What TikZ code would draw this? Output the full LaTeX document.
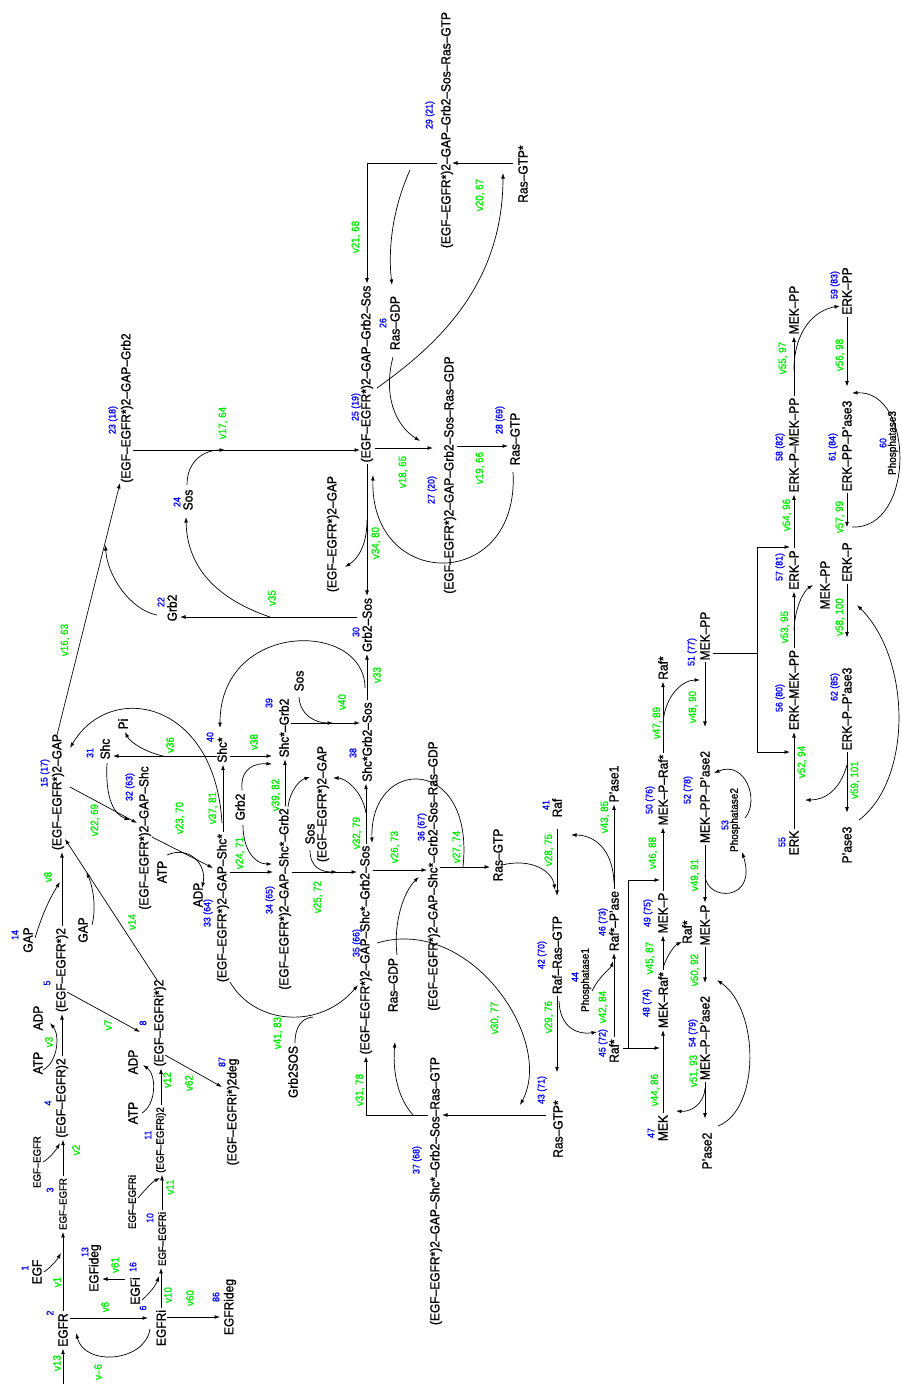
\documentclass[tikz,border=0pt]{standalone}
\usepackage{fontspec}
\setmainfont{Liberation Sans}[FakeBold=1.2]
\usetikzlibrary{arrows.meta}
\definecolor{idblue}{RGB}{0,0,255}
\definecolor{rategreen}{RGB}{0,235,0}
\tikzset{
  sp/.style={rotate=90, yscale=1.1, inner sep=0pt, outer sep=2pt, font=\fontsize{12}{14}\selectfont},
  sps/.style={sp, font=\fontsize{9.6}{11}\selectfont},
  enz/.style={sp, font=\fontsize{10}{12}\selectfont},
  num/.style={rotate=90, yscale=1.1, inner sep=0pt, text=idblue, font=\fontsize{8.8}{10}\selectfont},
  rate/.style={rotate=90, yscale=1.1, inner sep=0pt, text=rategreen, font=\fontsize{9.8}{11}\selectfont}
}
\begin{document}
\begin{tikzpicture}[x=1pt, y=-1pt, line width=0.7pt, >={Latex[length=5.5pt,width=3.8pt]}]
  \fill[white] (0,0) rectangle (902,1385);
  \useasboundingbox (0,0) rectangle (902,1385);
  % species
  \node[sp] (s1) at (37,1272) {EGF};
  \node[sp] (s2) at (63,1330) {EGFR};
  \node[sps] (s3) at (63,1204) {EGF--EGFR};
  \node[sps] (s3r) at (37,1162) {EGF--EGFR};
  \node[sp] (s4) at (62,1098) {(EGF--EGFR)2};
  \node[sp] (atp1) at (38,1063) {ATP};
  \node[sp] (adp1) at (38,1018) {ADP};
  \node[sp] (s5) at (62,970) {(EGF--EGFR*)2};
  \node[sp] (s6) at (161,1328) {EGFRi};
  \node[sp] (s16) at (135,1291) {EGFi};
  \node[sp] (s13) at (95,1268) {EGFideg};
  \node[sp] (s86) at (230,1307) {EGFRideg};
  \node[sps] (s10) at (162,1239) {EGF--EGFRi};
  \node[sps] (s10r) at (132,1202) {EGF--EGFRi};
  \node[sps] (s11) at (161,1140) {(EGF--EGFRi)2};
  \node[sp] (atp2) at (133,1113) {ATP};
  \node[sp] (adp2) at (133,1062) {ADP};
  \node[sp] (s8) at (160,1023) {(EGF--EGFRi*)2};
  \node[sp] (s87) at (233,1112) {(EGF--EGFRi*)2deg};
  \node[sp] (s14) at (28,940) {GAP};
  \node[sp] (gap2) at (83,930) {GAP};
  \node[sp] (s15) at (58,792) {(EGF--EGFR*)2--GAP};
  \node[sp] (s22) at (172,608) {Grb2};
  \node[sp] (s23) at (127,408) {(EGF--EGFR*)2--GAP--Grb2};
  \node[sp] (s24) at (188,500) {Sos};
  \node[sp] (s25) at (367,374) {(EGF--EGFR*)2--GAP--Grb2--Sos};
  \node[sp] (s26) at (395,323) {Ras--GDP};
  \node[sp] (s27) at (450,475) {(EGF--EGFR*)2--GAP--Grb2--Sos--Ras--GDP};
  \node[sp] (s28) at (515,439) {Ras--GTP};
  \node[sp] (s29) at (447,130) {(EGF--EGFR*)2--GAP--Grb2--Sos--Ras--GTP};
  \node[sp] (rgs1) at (523,174) {Ras--GTP*};
  \node[sp] (gap3) at (333,534) {(EGF--EGFR*)2--GAP};
  \node[sp] (s30) at (367,625) {Grb2--Sos};
  \node[sp] (s31) at (105,749) {Shc};
  \node[sp] (pi) at (123,724) {Pi};
  \node[sp] (s32) at (145,838) {(EGF--EGFR*)2--GAP--Shc};
  \node[sp] (atp3) at (162,872) {ATP};
  \node[sp] (adp3) at (198,895) {ADP};
  \node[sp] (s33) at (223,908) {(EGF--EGFR*)2--GAP--Shc*};
  \node[sp] (s40) at (222,750) {Shc*};
  \node[sp] (grb3) at (240,807) {Grb2};
  \node[sp] (s39) at (284,728) {Shc*--Grb2};
  \node[sp] (s34) at (285,899) {(EGF--EGFR*)2--GAP--Shc*--Grb2};
  \node[sp] (sos3) at (299,681) {Sos};
  \node[sp] (sos4) at (310,834) {Sos};
  \node[sp] (gap4) at (323,804) {(EGF--EGFR*)2--GAP};
  \node[sp] (s38) at (367,742) {Shc*Grb2--Sos};
  \node[sp] (s35) at (366,950) {(EGF--EGFR*)2--GAP--Shc*--Grb2--Sos};
  \node[sp] (s36) at (434,876) {(EGF--EGFR*)2--GAP--Shc*--Grb2--Sos--Ras--GDP};
  \node[sp] (rgd2) at (393,985) {Ras--GDP};
  \node[sp] (rgt2) at (498,855) {Ras--GTP};
  \node[sp] (g2s) at (293,1072) {Grb2SOS};
  \node[sp] (s37) at (436,1191) {(EGF--EGFR*)2--GAP--Shc*--Grb2--Sos--Ras--GTP};
  \node[sp] (s41) at (557,808) {Raf};
  \node[sp] (s42) at (557,955) {Raf--Ras--GTP};
  \node[sp] (s43) at (558,1129) {Ras--GTP*};
  \node[enz] (s44) at (586,980) {Phosphatase1};
  \node[sp] (s45) at (614,1051) {Raf*};
  \node[sp] (s46) at (614,921) {Raf*--P'ase};
  \node[sp] (pase1) at (614,784) {P'ase1};
  \node[sp] (s47) at (663,1128) {MEK};
  \node[sp] (s48) at (663,1000) {MEK--Raf*};
  \node[sp] (raf2) at (687,932) {Raf*};
  \node[sp] (s49) at (663,913) {MEK--P};
  \node[sp] (s50) at (663,790) {MEK--P--Raf*};
  \node[sp] (raf3) at (663,668) {Raf*};
  \node[sp] (s51) at (705,636) {MEK--PP};
  \node[sp] (s52) at (705,797) {MEK--PP--P'ase2};
  \node[enz] (s53) at (735,820) {Phosphatase2};
  \node[sp] (mekp2) at (705,925) {MEK--P};
  \node[sp] (s54) at (705,1038) {MEK--P--P'ase2};
  \node[sp] (pase2) at (707,1151) {P'ase2};
  \node[sp] (s55) at (794,843) {ERK};
  \node[sp] (s56) at (794,690) {ERK--MEK--PP};
  \node[sp] (s57) at (794,570) {ERK--P};
  \node[sp] (mekpp2) at (825,585) {MEK--PP};
  \node[sp] (s58) at (794,445) {ERK--P--MEK--PP};
  \node[sp] (mekpp3) at (794,310) {MEK--PP};
  \node[sp] (s59) at (847,291) {ERK--PP};
  \node[sp] (s61) at (847,446) {ERK--PP--P'ase3};
  \node[enz] (s60) at (893,443) {Phosphatase3};
  \node[sp] (erkp2) at (847,562) {ERK--P};
  \node[sp] (s62) at (847,709) {ERK--P--P'ase3};
  \node[sp] (pase3) at (847,845) {P'ase3};
  % species numbers
  \node[num] (i1) at (25,1268) {1};
  \node[num] (i2) at (50,1313) {2};
  \node[num] (i3) at (50,1190) {3};
  \node[num] (i4) at (48,1103) {4};
  \node[num] (i5) at (47,983) {5};
  \node[num] (i6) at (143,1308) {6};
  \node[num] (i16) at (133,1267) {16};
  \node[num] (i13) at (85,1252) {13};
  \node[num] (i10) at (150,1218) {10};
  \node[num] (i86) at (216,1297) {86};
  \node[num] (i11) at (148,1135) {11};
  \node[num] (i8) at (143,1023) {8};
  \node[num] (i87) at (222,1062) {87};
  \node[num] (i14) at (15,935) {14};
  \node[num] (i15) at (45,773) {15 (17)};
  \node[num] (i22) at (161,602) {22};
  \node[num] (i23) at (113,420) {23 (18)};
  \node[num] (i24) at (177,502) {24};
  \node[num] (i25) at (356,407) {25 (19)};
  \node[num] (i26) at (383,323) {26};
  \node[num] (i27) at (432,490) {27 (20)};
  \node[num] (i28) at (500,420) {28 (69)};
  \node[num] (i29) at (430,115) {29 (21)};
  \node[num] (i30) at (356,632) {30};
  \node[num] (i31) at (90,753) {31};
  \node[num] (i32) at (130,787) {32 (63)};
  \node[num] (i33) at (208,913) {33 (64)};
  \node[num] (i40) at (210,737) {40};
  \node[num] (i39) at (269,703) {39};
  \node[num] (i34) at (270,900) {34 (65)};
  \node[num] (i38) at (353,753) {38};
  \node[num] (i35) at (357,943) {35 (66)};
  \node[num] (i36) at (422,827) {36 (67)};
  \node[num] (i37) at (417,1160) {37 (68)};
  \node[num] (i41) at (546,805) {41};
  \node[num] (i42) at (542,955) {42 (70)};
  \node[num] (i43) at (542,1090) {43 (71)};
  \node[num] (i44) at (575,977) {44};
  \node[num] (i45) at (603,1043) {45 (72)};
  \node[num] (i46) at (603,922) {46 (73)};
  \node[num] (i47) at (651,1133) {47};
  \node[num] (i48) at (647,1003) {48 (74)};
  \node[num] (i49) at (648,913) {49 (75)};
  \node[num] (i50) at (650,800) {50 (76)};
  \node[num] (i51) at (692,652) {51 (77)};
  \node[num] (i52) at (688,790) {52 (78)};
  \node[num] (i53) at (725,825) {53};
  \node[num] (i54) at (693,1033) {54 (79)};
  \node[num] (i55) at (782,842) {55};
  \node[num] (i56) at (780,698) {56 (80)};
  \node[num] (i57) at (780,567) {57 (81)};
  \node[num] (i58) at (780,447) {58 (82)};
  \node[num] (i59) at (835,285) {59 (83)};
  \node[num] (i60) at (883,443) {60};
  \node[num] (i61) at (833,447) {61 (84)};
  \node[num] (i62) at (835,687) {62 (85)};
  % reaction labels
  \node[rate] (r1) at (57,1282) {v1};
  \node[rate] (r13) at (57,1363) {v13};
  \node[rate] (rm6) at (98,1372) {v--6};
  \node[rate] (r6) at (105,1307) {v6};
  \node[rate] (r61) at (115,1265) {v61};
  \node[rate] (r10) at (168,1295) {v10};
  \node[rate] (r60) at (190,1298) {v60};
  \node[rate] (r11) at (170,1187) {v11};
  \node[rate] (r2) at (76,1150) {v2};
  \node[rate] (r3) at (49,1042) {v3};
  \node[rate] (r12) at (167,1080) {v12};
  \node[rate] (r7) at (108,1025) {v7};
  \node[rate] (r62) at (189,1083) {v62};
  \node[rate] (r8) at (48,877) {v8};
  \node[rate] (r14) at (132,922) {v14};
  \node[rate] (r16) at (65,640) {v16, 63};
  \node[rate] (r17) at (223,423) {v17, 64};
  \node[rate] (r18) at (403,472) {v18, 65};
  \node[rate] (r19) at (480,468) {v19, 66};
  \node[rate] (r20) at (480,195) {v20, 67};
  \node[rate] (r21) at (356,237) {v21, 68};
  \node[rate] (r34) at (376,543) {v34, 80};
  \node[rate] (r35) at (272,598) {v35};
  \node[rate] (r33) at (377,675) {v33};
  \node[rate] (r40) at (342,702) {v40};
  \node[rate] (r38) at (254,742) {v38};
  \node[rate] (r36) at (170,745) {v36};
  \node[rate] (r22) at (95,820) {v22, 69};
  \node[rate] (r23) at (180,818) {v23, 70};
  \node[rate] (r37) at (213,808) {v37, 81};
  \node[rate] (r39) at (276,795) {v39, 82};
  \node[rate] (r24) at (240,853) {v24, 71};
  \node[rate] (r25) at (318,897) {v25, 72};
  \node[rate] (r32) at (357,833) {v32, 79};
  \node[rate] (r26) at (395,847) {v26, 73};
  \node[rate] (r27) at (457,847) {v27, 74};
  \node[rate] (r41) at (278,1033) {v41, 83};
  \node[rate] (r31) at (360,1090) {v31, 78};
  \node[rate] (r30) at (495,1018) {v30, 77};
  \node[rate] (r28) at (549,850) {v28, 75};
  \node[rate] (r29) at (549,1017) {v29, 76};
  \node[rate] (r42) at (603,1007) {v42, 84};
  \node[rate] (r43) at (605,817) {v43, 85};
  \node[rate] (r44) at (655,1090) {v44, 86};
  \node[rate] (r45) at (650,958) {v45, 87};
  \node[rate] (r46) at (653,853) {v46, 88};
  \node[rate] (r47) at (657,723) {v47, 89};
  \node[rate] (r48) at (693,707) {v48, 90};
  \node[rate] (r49) at (695,875) {v49, 91};
  \node[rate] (r50) at (695,970) {v50, 92};
  \node[rate] (r51) at (694,1071) {v51, 93};
  \node[rate] (r52) at (802,762) {v52, 94};
  \node[rate] (r53) at (785,627) {v53, 95};
  \node[rate] (r54) at (787,515) {v54, 96};
  \node[rate] (r55) at (783,358) {v55, 97};
  \node[rate] (r56) at (840,355) {v56, 98};
  \node[rate] (r57) at (840,517) {v57, 99};
  \node[rate] (r58) at (840,617) {v58, 100};
  \node[rate] (r59) at (855,780) {v59, 101};
  % junctions on reaction lines
  \coordinate (in13) at (63,1384);
  \coordinate (j1) at (61,1253);
  \coordinate (j2) at (60,1143);
  \coordinate (j8) at (60,882);
  \coordinate (j14) at (86.5,872);
  \coordinate (j10) at (159,1276);
  \coordinate (j11) at (160,1178);
  \coordinate (j16) at (105.5,545);
  \coordinate (j17) at (225,450);
  \coordinate (j35) at (270,617);
  \coordinate (j21) at (410,170);
  \coordinate (j18) at (420,441);
  \coordinate (j34) at (367,520);
  \coordinate (j40) at (333,723);
  \coordinate (j38) at (272,764);
  \coordinate (j24) at (272,864);
  \coordinate (j36) at (163,756);
  \coordinate (j37) at (222,823);
  \coordinate (j22) at (130,820);
  \coordinate (j25) at (337,872);
  \coordinate (j32) at (366,813);
  \coordinate (j27) at (463,867);
  \coordinate (j26) at (419,877);
  \coordinate (j28) at (555,890);
  \coordinate (j31) at (413,1115);
  \coordinate (j41) at (313,1017);
  \coordinate (j42) at (613,961);
  \coordinate (j43) at (614,883);
  \coordinate (j44) at (660,1048);
  \coordinate (j45a) at (628,1048);
  \coordinate (j46) at (660,880);
  \coordinate (j45) at (663,968);
  \coordinate (j47) at (663,723);
  \coordinate (j49) at (705,875);
  \coordinate (j51) at (705,1088);
  \coordinate (jb) at (757,653);
  \coordinate (j54) at (790,547);
  \coordinate (j52) at (790,752);
  \coordinate (j53) at (794,630);
  \coordinate (j55) at (794,370);
  \coordinate (j57) at (852,527);
  \coordinate (j59) at (847,765);
  % EGF receptor block
  \draw[->] (in13) -- (s2.west);
  \draw[->] (s2.east) -- (s2.east |- s3.west);
  \draw[->] (s1.south) .. controls (50,1268) and (57,1260) .. (j1);
  \draw[->] (s3.east) -- (s3.east |- s4.west);
  \draw[->] (s3r.south) .. controls (50,1158) and (56,1150) .. (j2);
  \draw[->] (s4.east) -- (s4.east |- s5.west);
  \draw[->] ([shift={(5,7)}]atp1.center) .. controls (58,1062) and (60,1035) .. ([shift={(12,5)}]adp1.center);
  \draw[->] ([shift={(5,22)}]s5.center) -- ([shift={(-20,9)}]s8.center);
  \draw[->] ([shift={(5,32)}]s8.center) -- ([shift={(-11,-25)}]s87.center);
  \draw[->] ([shift={(-3,-43)}]s8.center) -- ([shift={(7,47)}]s15.center);
  \draw[->] ([shift={(9,-5)}]gap2.center) .. controls (97,905) and (92,885) .. (j14);
  \draw[->] (s5.east) -- (s5.east |- s15.west);
  \draw[->] ([shift={(7,-2)}]s14.center) .. controls (45,905) and (55,890) .. (j8);
  \draw[->] ([shift={(7,-12)}]s2.center) -- ([shift={(-13,-10)}]s6.center);
  \draw[->] ([shift={(-11,1)}]s6.center) .. controls (145,1362) and (85,1367) .. ([shift={(13,3)}]s2.center);
  \draw[->] ([shift={(-10,-12)}]s16.center) -- ([shift={(7,11)}]s13.center);
  \draw[->] (s6.east) -- (s6.east |- s10.west);
  \draw[->] ([shift={(7,9)}]s16.center) .. controls (150,1293) and (156,1285) .. (j10);
  \draw[->] ([shift={(6,-11)}]s6.center) -- ([shift={(-10,10)}]s86.center);
  \draw[->] (s10.east) -- (s10.east |- s11.west);
  \draw[->] ([shift={(6,-4)}]s10r.center) .. controls (145,1190) and (152,1182) .. (j11);
  \draw[->] (s11.east) -- (s11.east |- s8.west);
  \draw[->] ([shift={(9,0)}]atp2.center) .. controls (156,1105) and (157,1075) .. ([shift={(10,3)}]adp2.center);
  % GAP, Grb2, Sos, Ras
  \draw[->] ([shift={(-1,-57)}]s15.center) -- ([shift={(-7,75)}]s23.center);
  \draw[->] ([shift={(-15,7)}]s22.center) .. controls (130,610) and (107,575) .. (j16);
  \draw[->] ([shift={(6,42)}]s23.center) -- ([shift={(-7,76)}]s25.center);
  \draw[->] ([shift={(-1,-15)}]s24.center) .. controls (187,460) and (205,450) .. (j17);
  \draw[->] (j35) .. controls (220,600) and (187,570) .. ([shift={(-2,17)}]s24.center);
  \draw[->] ([shift={(-10,-8)}]s30.center) -- ([shift={(8,9)}]s22.center);
  \draw[->] ([shift={(-10,33)}]s29.center) -| (s25.east);
  \draw[->] ([shift={(-10,-11)}]rgs1.center) -- ([shift={(5,33)}]s29.center);
  \draw[->] ([shift={(10,14)}]s25.center) .. controls (430,350) and (503,290) .. ([shift={(-20,-1)}]rgs1.center);
  \draw[->] (j21) .. controls (392,210) and (388,250) .. ([shift={(-3,-38)}]s26.center);
  \draw[->] ([shift={(8,74)}]s25.center) -- ([shift={(-17,-27)}]s27.center);
  \draw[->] ([shift={(-2,34)}]s26.center) .. controls (383,395) and (395,425) .. (j18);
  \draw[->] ([shift={(7,-29)}]s27.center) -- ([shift={(-7,7)}]s28.center);
  \draw[->] ([shift={(-2,33)}]s28.center) .. controls (520,592) and (370,592) .. ([shift={(6,101)}]s25.center);
  \draw[->] (s25.west) -- (s25.west |- s30.east);
  \draw[->] (j34) .. controls (367,548) and (356,560) .. ([shift={(12,33)}]gap3.center);
  \draw[->] (s38.east) -- (s38.east |- s30.west);
  \draw[->] ([shift={(-2,-54)}]s38.center) .. controls (365,620) and (220,620) .. ([shift={(-2,-22)}]s40.center);
  % Shc branch
  \draw[->] ([shift={(7,-5)}]s39.center) -- ([shift={(-7,-19)}]s38.center);
  \draw[->] ([shift={(0,16)}]sos3.center) .. controls (300,715) and (315,723) .. (j40);
  \draw[->] ([shift={(8,6)}]s40.center) -- ([shift={(-12,28)}]s39.center);
  \draw[->] ([shift={(2,-17)}]grb3.center) .. controls (240,768) and (255,763) .. (j38);
  \draw[->] ([shift={(3,18)}]grb3.center) .. controls (243,850) and (255,864) .. (j24);
  \draw[->] (s34.east) -- (s34.east |- s39.west);
  \draw[->] ([shift={(3,-92)}]s34.center) .. controls (290,790) and (300,780) .. ([shift={(-13,-27)}]gap4.center);
  \draw[->] ([shift={(-5,6)}]s40.center) -- ([shift={(8,7)}]s31.center);
  \draw[->] (j36) .. controls (145,752) and (130,742) .. ([shift={(2,8)}]pi.center);
  \draw[->] (j37) .. controls (215,700) and (110,680) .. ([shift={(12,-44)}]s15.center);
  \draw[->] (s33.east) -- (s33.east |- s40.west);
  \draw[->] ([shift={(12,-5)}]s15.center) -- ([shift={(-8,-15)}]s32.center);
  \draw[->] ([shift={(2,14)}]s31.center) .. controls (105,800) and (115,815) .. (j22);
  \draw[->] ([shift={(7,-1)}]s32.center) -- ([shift={(-10,-40)}]s33.center);
  \draw[->] ([shift={(5,-17)}]atp3.center) .. controls (190,845) and (207,865) .. ([shift={(4,-7)}]adp3.center);
  \draw[->] ([shift={(7,-36)}]s33.center) -- ([shift={(-12,-27)}]s34.center);
  \draw[->] ([shift={(7,-27)}]s34.center) -- ([shift={(-9,-78)}]s35.center);
  \draw[->] ([shift={(0,16)}]sos4.center) .. controls (310,868) and (322,872) .. (j25);
  \draw[->] (s35.east) -- (s35.east |- s38.west);
  \draw[->] (j32) .. controls (362,790) and (345,778) .. ([shift={(10,-26)}]gap4.center);
  \draw[->] (j27) .. controls (475,755) and (370,755) .. ([shift={(6,-107)}]s35.center);
  \draw[->] ([shift={(7,-80)}]s35.center) -- ([shift={(-7,-6)}]s36.center);
  \draw[->] ([shift={(4,-30)}]rgd2.center) .. controls (393,920) and (405,890) .. (j26);
  \draw[->] ([shift={(6,-9)}]s36.center) -- ([shift={(-8,12)}]rgt2.center);
  \draw[->] ([shift={(4,10)}]rgt2.center) .. controls (530,858) and (552,870) .. (j28);
  \draw[->] ([shift={(11,-7)}]s35.center) .. controls (470,915) and (555,1040) .. ([shift={(-38,-24)}]s43.center);
  \draw[->] ([shift={(-12,-14)}]s43.center) -- ([shift={(6,-76)}]s37.center);
  \draw[->] ([shift={(-8,-76)}]s37.center) -| (s35.west);
  \draw[->] (j31) .. controls (395,1095) and (393,1065) .. ([shift={(2,57)}]rgd2.center);
  \draw[->] ([shift={(7,74)}]s33.center) .. controls (255,1025) and (320,1030) .. ([shift={(-8,35)}]s35.center);
  \draw ([shift={(2,-29)}]g2s.center) .. controls (295,1025) and (303,1018) .. (j41);
  % Raf
  \draw[->, shorten <=10pt, shorten >=18pt] (s41.west) -- (s41.west |- s42.east);
  \draw[->, shorten >=26pt] (s42.west) -- (s42.west |- s43.east);
  \draw[->] ([shift={(2,46)}]s42.center) .. controls (560,1028) and (578,1035) .. ([shift={(-17,-19)}]s45.center);
  \draw[->] (s45.east) -- (s45.east |- s46.west);
  \draw[->] ([shift={(6,11)}]s44.center) .. controls (600,975) and (611,968) .. (j42);
  \draw[->] (s46.east) -- (s46.east |- pase1.west);
  \draw[->] (j43) .. controls (613,850) and (595,835) .. ([shift={(14,27)}]s41.center);
  \draw[->] ([shift={(9,-3)}]s45.center) -- (j44);
  \draw[->] (j45a) |- (j46);
  % MEK
  \draw[->] (s47.east) -- (s47.east |- s48.west);
  \draw[->] (s48.east) -- (s48.east |- s49.west);
  \draw[->] (j45) .. controls (667,955) and (675,945) .. ([shift={(-5,10)}]raf2.center);
  \draw[->] (s49.east) -- (s49.east |- s50.west);
  \draw[->] (s50.east) -- (s50.east |- raf3.west);
  \draw[->] (j47) .. controls (665,695) and (683,680) .. ([shift={(-5,44)}]s51.center);
  \draw[->, shorten >=22pt] (s51.west) -- (s51.west |- s52.east);
  \draw[->] ([shift={(10,-2)}]s53.center) .. controls (760,800) and (745,760) .. ([shift={(9,-24)}]s52.center);
  \draw[->] (s52.west) -- (s52.west |- mekp2.east);
  \draw[->] (j49) .. controls (706,902) and (758,902) .. ([shift={(7,32)}]s53.center);
  \draw[->, shorten >=11pt] (mekp2.west) -- (mekp2.west |- s54.east);
  \draw[->, shorten >=12pt] (s54.west) -- (s54.west |- pase2.east);
  \draw[->] (j51) .. controls (704,1105) and (690,1112) .. ([shift={(13,-17)}]s47.center);
  \draw[->] ([shift={(11,-25)}]pase2.center) .. controls (760,1110) and (760,1010) .. ([shift={(12,55)}]mekp2.center);
  % ERK
  \draw ([shift={(8,17)}]s51.center) -- (jb);
  \draw[->] (jb) |- (j54);
  \draw[->] (jb) |- (j52);
  \draw[->] (s55.east) -- (s55.east |- s56.west);
  \draw[->] (s56.east) -- (s56.east |- s57.west);
  \draw[->] (j53) .. controls (795,605) and (805,590) .. ([shift={(-12,0)}]mekpp2.center);
  \draw[->] (s57.east) -- (s57.east |- s58.west);
  \draw[->] (s58.east) -- (s58.east |- mekpp3.west);
  \draw[->] (j55) .. controls (794,330) and (815,310) .. ([shift={(-7,15)}]s59.center);
  \draw[->, shorten >=12pt] (s59.west) -- (s59.west |- s61.east);
  \draw[->, shorten >=13pt] (s61.west) -- (s61.west |- erkp2.east);
  \draw[->] (j57) .. controls (915,530) and (915,390) .. ([shift={(5,-53)}]s61.center);
  \draw[->, shorten >=28pt] (erkp2.west) -- (erkp2.west |- s62.east);
  \draw[->, shorten >=12pt] (s62.west) -- (s62.west |- pase3.east);
  \draw[->] (j59) .. controls (840,790) and (825,800) .. ([shift={(11,-43)}]s55.center);
  \draw[->] ([shift={(12,-25)}]pase3.center) .. controls (912,780) and (912,660) .. ([shift={(10,43)}]erkp2.center);
\end{tikzpicture}
\end{document}
